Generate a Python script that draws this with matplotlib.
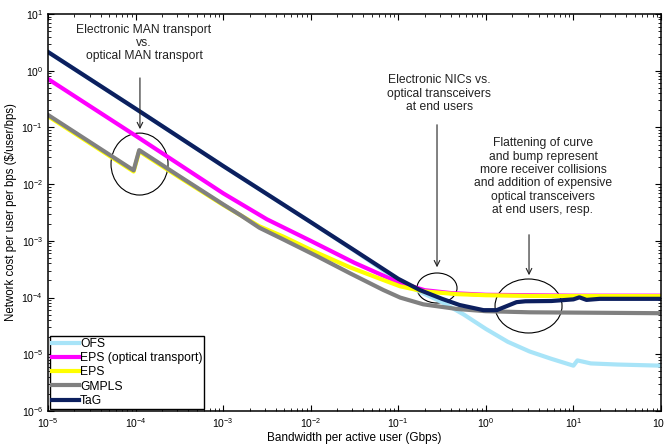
import matplotlib
matplotlib.use("Agg")
import matplotlib.pyplot as plt
from matplotlib.patches import Ellipse
from matplotlib.ticker import LogLocator, NullFormatter

plt.rcParams['font.family'] = ['Liberation Sans', 'DejaVu Sans']
plt.rcParams['mathtext.fontset'] = 'custom'
plt.rcParams['mathtext.rm'] = 'Liberation Sans'

# Data (bandwidth in Gbps, cost in $/user/bps)
bw_tag = [1e-5, 1e-4, 1e-3, 1e-2, 3.16e-2, 0.1, 0.178, 0.316, 0.5, 0.94, 1.33,
          2.24, 2.82, 5.6, 10, 11.7, 14.1, 20, 100]
cost_tag = [2.14, 0.214, 2.09e-2, 2.14e-3, 6.8e-4, 2.14e-4, 1.35e-4, 9.5e-5, 7.4e-5,
            6.0e-5, 6.0e-5, 8.3e-5, 8.6e-5, 8.7e-5, 9.3e-5, 1.01e-4, 9.1e-5, 9.5e-5, 9.5e-5]

bw_ofs = [1e-5, 1e-4, 1e-3, 1e-2, 3.16e-2, 0.1, 0.178, 0.316, 0.562, 1.0, 1.78,
          3.16, 5.62, 10, 11.1, 15.8, 31.6, 100]
cost_ofs = [2.14, 0.214, 2.09e-2, 2.14e-3, 6.7e-4, 2.0e-4, 1.26e-4, 8.3e-5, 5.0e-5,
            2.8e-5, 1.66e-5, 1.12e-5, 8.3e-6, 6.3e-6, 7.8e-6, 6.9e-6, 6.6e-6, 6.3e-6]

bw_eps_opt = [1e-5, 1e-4, 1e-3, 3.16e-3, 1e-2, 3.16e-2, 0.1, 0.2, 0.4, 1, 10, 100]
cost_eps_opt = [0.715, 7.15e-2, 6.9e-3, 2.4e-3, 1.0e-3, 4.1e-4, 1.86e-4, 1.35e-4,
                1.2e-4, 1.12e-4, 1.08e-4, 1.08e-4]

bw_eps = [1e-5, 9.5e-5, 1.1e-4, 3.16e-4, 1e-3, 1.6e-3, 2.6e-3, 4.86e-3, 1.17e-2,
          2.81e-2, 6.75e-2, 0.105, 0.193, 0.465, 1, 3.16, 100]
cost_eps = [0.158, 1.67e-2, 3.8e-2, 1.32e-2, 4.3e-3, 2.8e-3, 1.8e-3, 1.19e-3, 6.2e-4,
            3.41e-4, 2.04e-4, 1.58e-4, 1.29e-4, 1.15e-4, 1.10e-4, 1.07e-4, 1.06e-4]

bw_gmpls = [1e-5, 9.5e-5, 1.1e-4, 3.16e-4, 1e-3, 1.6e-3, 2.6e-3, 4.86e-3, 1.17e-2,
            2.81e-2, 6.75e-2, 0.105, 0.193, 0.465, 1, 3.16, 100]
cost_gmpls = [0.166, 1.75e-2, 3.98e-2, 1.38e-2, 4.4e-3, 2.8e-3, 1.7e-3, 1.06e-3, 5.4e-4,
              2.68e-4, 1.36e-4, 1.0e-4, 7.6e-5, 6.3e-5, 5.75e-5, 5.5e-5, 5.3e-5]

labels = ['OFS', 'EPS (optical transport)', 'EPS', 'GMPLS', 'TaG']
colors = ['#a8e4f8', '#ff00ff', '#ffff00', '#808080', '#0c1f5e']

fig = plt.figure(figsize=(6.64, 4.46), dpi=100)
ax = fig.add_axes([48/664, 1-411/446, 613/664, 397/446])

series = [(bw_ofs, cost_ofs), (bw_eps_opt, cost_eps_opt), (bw_eps, cost_eps),
          (bw_gmpls, cost_gmpls), (bw_tag, cost_tag)]
for (x, y), lab, c in zip(series, labels, colors):
    ax.plot(x, y, color=c, lw=3, label=lab, solid_joinstyle='round')

ax.set_xscale('log')
ax.set_yscale('log')
ax.set_xlim(1e-5, 1e2)
ax.set_ylim(1e-6, 1e1)
for a in (ax.xaxis, ax.yaxis):
    a.set_major_locator(LogLocator(base=10, numticks=20))
    a.set_minor_locator(LogLocator(base=10, subs=range(2, 10), numticks=20))
    a.set_minor_formatter(NullFormatter())
ax.tick_params(which='both', direction='in', top=True, right=True, labelsize=7.5)
ax.tick_params(which='major', length=4, width=0.8)
ax.tick_params(which='minor', length=2, width=0.6)
for s in ax.spines.values():
    s.set_linewidth(1.1)

ax.set_xlabel('Bandwidth per active user (Gbps)', fontsize=8.5, labelpad=2)
ax.set_ylabel('Network cost per user per bps (\\$/user/bps)', fontsize=8.3, labelpad=3)

leg = ax.legend(loc='lower left', fontsize=8.7, frameon=True, fancybox=False,
                framealpha=1, edgecolor='black', borderaxespad=0.2, borderpad=0.15,
                handlelength=2.2, handletextpad=0.1, labelspacing=0.18)
leg.get_frame().set_linewidth(1.0)

# annotations (axes fraction coordinates)
tc = '#222222'
fs = 8.7
ax.text(0.1566, 0.927, 'Electronic MAN transport\nvs.\noptical MAN transport',
        transform=ax.transAxes, ha='center', va='center', fontsize=fs,
        color=tc, linespacing=1.15)
ax.annotate('', xy=(0.150, 0.703), xytext=(0.150, 0.846), xycoords='axes fraction',
            arrowprops=dict(arrowstyle='->', lw=0.8, color='#222222'))
ax.add_patch(Ellipse((0.1493, 0.622), 0.093, 0.156, transform=ax.transAxes,
                     fill=False, ec='black', lw=0.8))

ax.text(0.638, 0.799, 'Electronic NICs vs.\noptical transceivers\nat end users',
        transform=ax.transAxes, ha='center', va='center', fontsize=fs,
        color=tc, linespacing=1.15)
ax.annotate('', xy=(0.6346, 0.355), xytext=(0.6346, 0.728), xycoords='axes fraction',
            arrowprops=dict(arrowstyle='->', lw=0.8, color='#222222'))
ax.add_patch(Ellipse((0.6346, 0.3098), 0.0653, 0.0756, transform=ax.transAxes,
                     fill=False, ec='black', lw=0.8))

ax.text(0.8075, 0.590, 'Flattening of curve\nand bump represent\nmore receiver collisions\n'
        'and addition of expensive\noptical transceivers\nat end users, resp.',
        transform=ax.transAxes, ha='center', va='center', fontsize=fs,
        color=tc, linespacing=1.15)
ax.annotate('', xy=(0.7847, 0.335), xytext=(0.7847, 0.451), xycoords='axes fraction',
            arrowprops=dict(arrowstyle='->', lw=0.8, color='#222222'))
ax.add_patch(Ellipse((0.7839, 0.2645), 0.1093, 0.136, transform=ax.transAxes,
                     fill=False, ec='black', lw=0.8))

fig.savefig('out.png', dpi=100)
